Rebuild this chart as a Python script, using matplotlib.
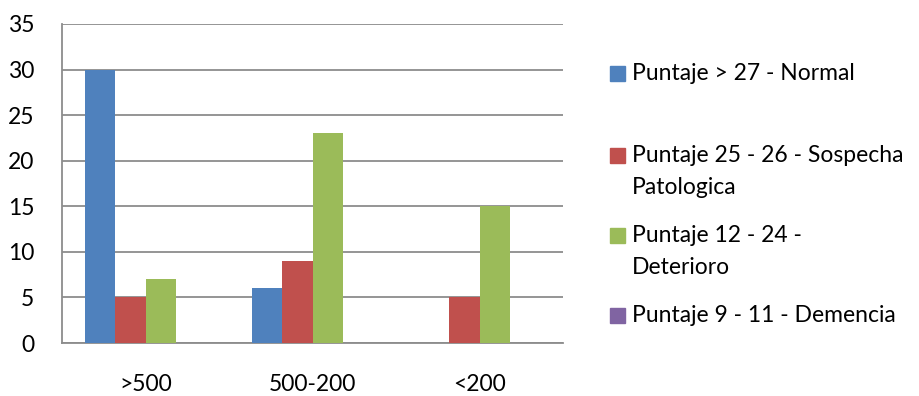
import numpy as np
import matplotlib.pyplot as plt
from matplotlib.patches import Rectangle

plt.rcParams['font.family'] = ['Lato', 'DejaVu Sans']

categories = ['>500', '500-200', '<200']
series_names = ['Puntaje > 27 - Normal',
                'Puntaje 25 - 26 - Sospecha\nPatologica',
                'Puntaje 12 - 24 -\nDeterioro',
                'Puntaje 9 - 11 - Demencia']
normal = [30, 6, 0]
sospecha = [5, 9, 5]
deterioro = [7, 23, 15]
demencia = [0, 0, 0]
colors = ['#4F81BD', '#C0504D', '#9BBB59', '#8064A2']

values = [normal, sospecha, deterioro, demencia]

fig = plt.figure(figsize=(9.2, 3.96), dpi=100)
W, H = 920, 396
ax = fig.add_axes([62 / W, 1 - 343 / H, (563 - 62) / W, (343 - 24) / H])

x = np.arange(len(categories))
bw = 0.73 / 4
for i, vals in enumerate(values):
    ax.bar(x - 1.5 * bw + i * bw, vals, bw, color=colors[i], zorder=3)

fs = 16.5
ax.set_xlim(-0.5, 2.5)
ax.set_ylim(0, 35)
ax.set_yticks(range(0, 36, 5))
ax.yaxis.grid(True, color='#8c8c8c', linewidth=1.3, zorder=0)
ax.set_xticks(x)
ax.set_xticklabels(categories)
ax.tick_params(axis='both', length=0, labelsize=fs)
ax.tick_params(axis='x', pad=22)
ax.tick_params(axis='y', pad=20)
for s in ['top', 'right']:
    ax.spines[s].set_visible(False)
for s in ['left', 'bottom']:
    ax.spines[s].set_color('#8c8c8c')
    ax.spines[s].set_linewidth(1.3)

# legend laid out by hand, square swatch plus wrapped label
line_gap = 32
label_y = [73, 155, 235, 315]
for name, c, y0 in zip(series_names, colors, label_y):
    fig.patches.append(Rectangle((610 / W, 1 - (y0 + 7.5) / H), 15 / W, 15 / H,
                                 transform=fig.transFigure, color=c))
    for k, line in enumerate(name.split('\n')):
        fig.text(632 / W, 1 - (y0 + k * line_gap) / H, line, fontsize=fs,
                 va='center', ha='left')

fig.savefig('out.png', dpi=100)
